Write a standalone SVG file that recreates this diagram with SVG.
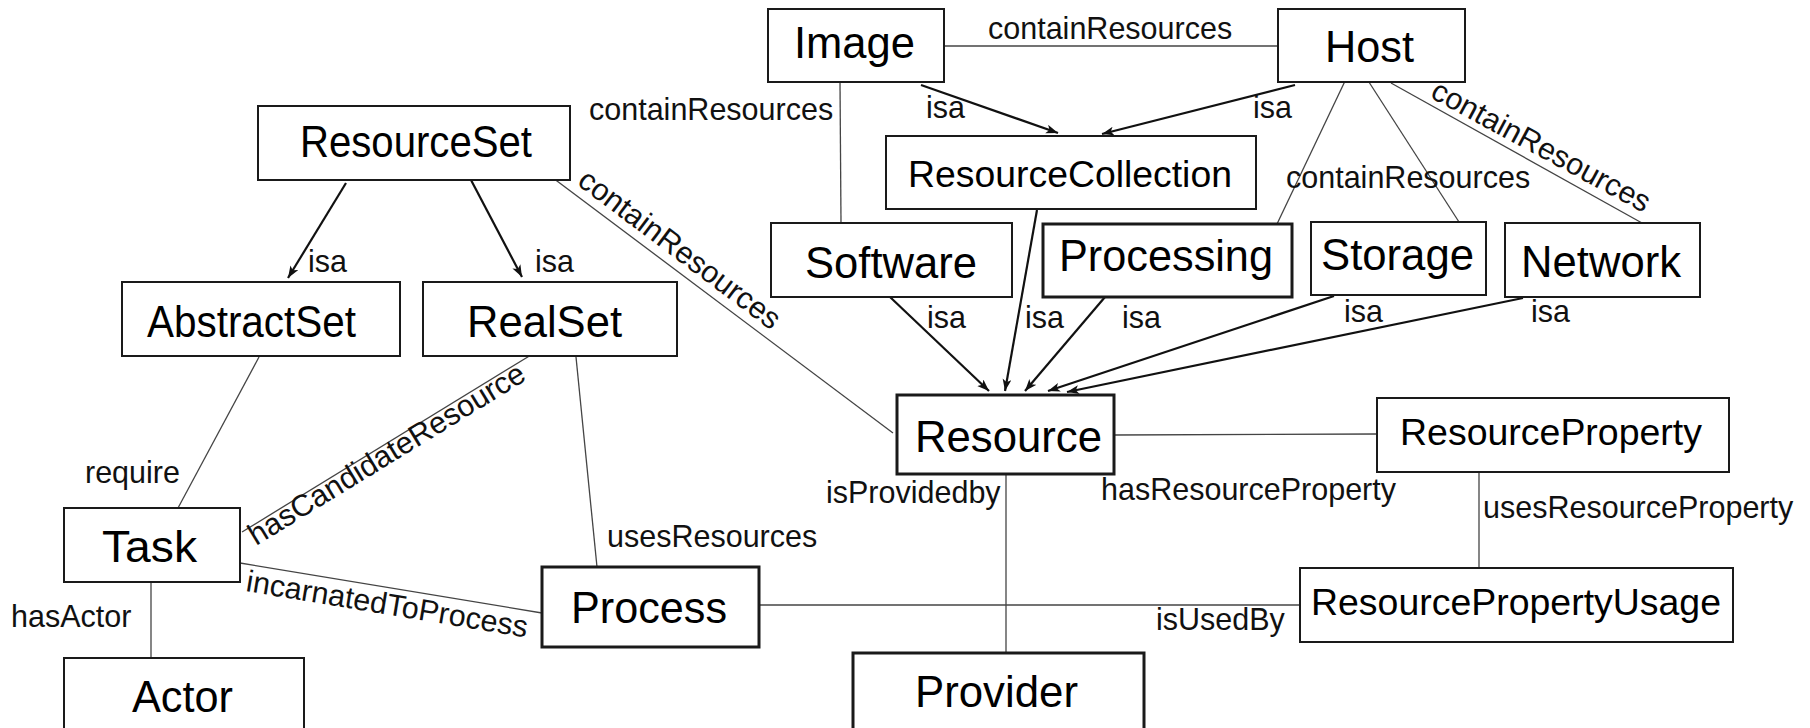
<svg xmlns="http://www.w3.org/2000/svg" width="1810" height="728" viewBox="0 0 1810 728">
<style>
  .node rect { fill:#ffffff; stroke:#1a1a1a; stroke-width:2; }
  .node.thick rect { stroke-width:3; }
  .nt { font-family:"Liberation Sans", Arial, sans-serif; font-size:44px; fill:#000; }
  .nts { font-family:"Liberation Sans", Arial, sans-serif; font-size:37.5px; fill:#000; }
  .lbl { font-family:"Liberation Sans", Arial, sans-serif; font-size:30.5px; fill:#111; }
  .rel { stroke:#444; stroke-width:1.3; fill:none; }
  .isa { stroke:#111; stroke-width:2.2; fill:none; marker-end:url(#ah); }
</style>
<defs>
  <marker id="ah" markerUnits="userSpaceOnUse" markerWidth="14" markerHeight="10" refX="12" refY="4.5" orient="auto">
    <path d="M0,0 L12,4.5 L0,9 L3,4.5 z" fill="#111"/>
  </marker>
</defs>
<rect x="0" y="0" width="1810" height="728" fill="#ffffff"/>

<g id="connectors">
  <!-- relations -->
  <line class="rel" x1="944" y1="46" x2="1278" y2="46"/>
  <line class="rel" x1="840" y1="82" x2="841" y2="223"/>
  <line class="rel" x1="1346" y1="79" x2="1277" y2="224"/>
  <line class="rel" x1="1367" y1="79" x2="1459" y2="222"/>
  <line class="rel" x1="1391" y1="83" x2="1642" y2="223"/>
  <line class="rel" x1="553" y1="178" x2="893" y2="433"/>
  <line class="rel" x1="259" y1="357" x2="178" y2="508"/>
  <line class="rel" x1="531" y1="355" x2="242" y2="532"/>
  <line class="rel" x1="576" y1="357" x2="597" y2="567"/>
  <line class="rel" x1="240" y1="563" x2="542" y2="613"/>
  <line class="rel" x1="151" y1="582" x2="151" y2="658"/>
  <line class="rel" x1="1114" y1="435" x2="1377" y2="434"/>
  <line class="rel" x1="1006" y1="474" x2="1006" y2="653"/>
  <line class="rel" x1="759" y1="605" x2="1300" y2="605"/>
  <line class="rel" x1="1479" y1="472" x2="1479" y2="568"/>
  <!-- isa -->
  <line class="isa" x1="346" y1="183" x2="288" y2="278"/>
  <line class="isa" x1="471" y1="180" x2="522" y2="277"/>
  <line class="isa" x1="921" y1="85" x2="1058" y2="133"/>
  <line class="isa" x1="1295" y1="85" x2="1102" y2="134"/>
  <line class="isa" x1="890" y1="297" x2="989" y2="391"/>
  <line class="isa" x1="1037" y1="210" x2="1005" y2="391"/>
  <line class="isa" x1="1105" y1="297" x2="1025" y2="391"/>
  <line class="isa" x1="1334" y1="296" x2="1048" y2="391"/>
  <line class="isa" x1="1523" y1="298" x2="1067" y2="392"/>
  <!-- labels -->
  <text class="lbl" x="988" y="39">containResources</text>
  <text class="lbl" x="589" y="120">containResources</text>
  <text class="lbl" x="926" y="118">isa</text>
  <text class="lbl" x="1253" y="118">isa</text>
  <text class="lbl" x="1286" y="188">containResources</text>
  <text class="lbl" transform="translate(1429,97) rotate(28.4)">containResources</text>
  <text class="lbl" transform="translate(576,184) rotate(36.9)">containResources</text>
  <text class="lbl" x="308" y="272">isa</text>
  <text class="lbl" x="535" y="272">isa</text>
  <text class="lbl" x="927" y="328">isa</text>
  <text class="lbl" x="1025" y="328">isa</text>
  <text class="lbl" x="1122" y="328">isa</text>
  <text class="lbl" x="1344" y="322">isa</text>
  <text class="lbl" x="1531" y="322">isa</text>
  <text class="lbl" x="85" y="483">require</text>
  <text class="lbl" transform="translate(256,546) rotate(-31.5)">hasCandidateResource</text>
  <text class="lbl" transform="translate(245,591) rotate(9.4)">incarnatedToProcess</text>
  <text class="lbl" x="11" y="627">hasActor</text>
  <text class="lbl" x="607" y="547">usesResources</text>
  <text class="lbl" x="826" y="503">isProvidedby</text>
  <text class="lbl" x="1101" y="500">hasResourceProperty</text>
  <text class="lbl" x="1483" y="518">usesResourceProperty</text>
  <text class="lbl" x="1156" y="630">isUsedBy</text>
</g>

<g id="node-image" class="node"><rect x="768" y="9" width="176" height="73"/><text class="nt" x="794" y="58" textLength="121" lengthAdjust="spacingAndGlyphs">Image</text></g>
<g id="node-host" class="node"><rect x="1278" y="9" width="187" height="73"/><text class="nt" x="1325" y="62" textLength="89" lengthAdjust="spacingAndGlyphs">Host</text></g>
<g id="node-resourceset" class="node"><rect x="258" y="106" width="312" height="74"/><text class="nt" x="300" y="157" textLength="232" lengthAdjust="spacingAndGlyphs">ResourceSet</text></g>
<g id="node-resourcecollection" class="node"><rect x="886" y="136" width="370" height="73"/><text class="nts" x="908" y="187" textLength="324" lengthAdjust="spacingAndGlyphs">ResourceCollection</text></g>
<g id="node-software" class="node"><rect x="771" y="223" width="241" height="74"/><text class="nt" x="805" y="278" textLength="172" lengthAdjust="spacingAndGlyphs">Software</text></g>
<g id="node-processing" class="node thick"><rect x="1043" y="224" width="249" height="73"/><text class="nt" x="1059" y="271" textLength="214" lengthAdjust="spacingAndGlyphs">Processing</text></g>
<g id="node-storage" class="node"><rect x="1311" y="222" width="175" height="73"/><text class="nt" x="1321" y="270" textLength="153" lengthAdjust="spacingAndGlyphs">Storage</text></g>
<g id="node-network" class="node"><rect x="1505" y="223" width="195" height="74"/><text class="nt" x="1521" y="277" textLength="160" lengthAdjust="spacingAndGlyphs">Network</text></g>
<g id="node-abstractset" class="node"><rect x="122" y="282" width="278" height="74"/><text class="nt" x="147" y="337" textLength="209" lengthAdjust="spacingAndGlyphs">AbstractSet</text></g>
<g id="node-realset" class="node"><rect x="423" y="282" width="254" height="74"/><text class="nt" x="467" y="337" textLength="155" lengthAdjust="spacingAndGlyphs">RealSet</text></g>
<g id="node-resource" class="node thick"><rect x="897" y="395" width="217" height="79"/><text class="nt" x="915" y="452" textLength="187" lengthAdjust="spacingAndGlyphs">Resource</text></g>
<g id="node-resourceproperty" class="node"><rect x="1377" y="398" width="352" height="74"/><text class="nts" x="1400" y="445" textLength="302" lengthAdjust="spacingAndGlyphs">ResourceProperty</text></g>
<g id="node-task" class="node"><rect x="64" y="508" width="176" height="74"/><text class="nt" x="102" y="562" textLength="95" lengthAdjust="spacingAndGlyphs">Task</text></g>
<g id="node-process" class="node thick"><rect x="542" y="567" width="217" height="80"/><text class="nt" x="571" y="623" textLength="156" lengthAdjust="spacingAndGlyphs">Process</text></g>
<g id="node-resourcepropertyusage" class="node"><rect x="1300" y="568" width="433" height="74"/><text class="nts" x="1311" y="615" textLength="410" lengthAdjust="spacingAndGlyphs">ResourcePropertyUsage</text></g>
<g id="node-actor" class="node"><rect x="64" y="658" width="240" height="85"/><text class="nt" x="132" y="712" textLength="101" lengthAdjust="spacingAndGlyphs">Actor</text></g>
<g id="node-provider" class="node thick"><rect x="853" y="653" width="291" height="90"/><text class="nt" x="915" y="707" textLength="163" lengthAdjust="spacingAndGlyphs">Provider</text></g>
</svg>
